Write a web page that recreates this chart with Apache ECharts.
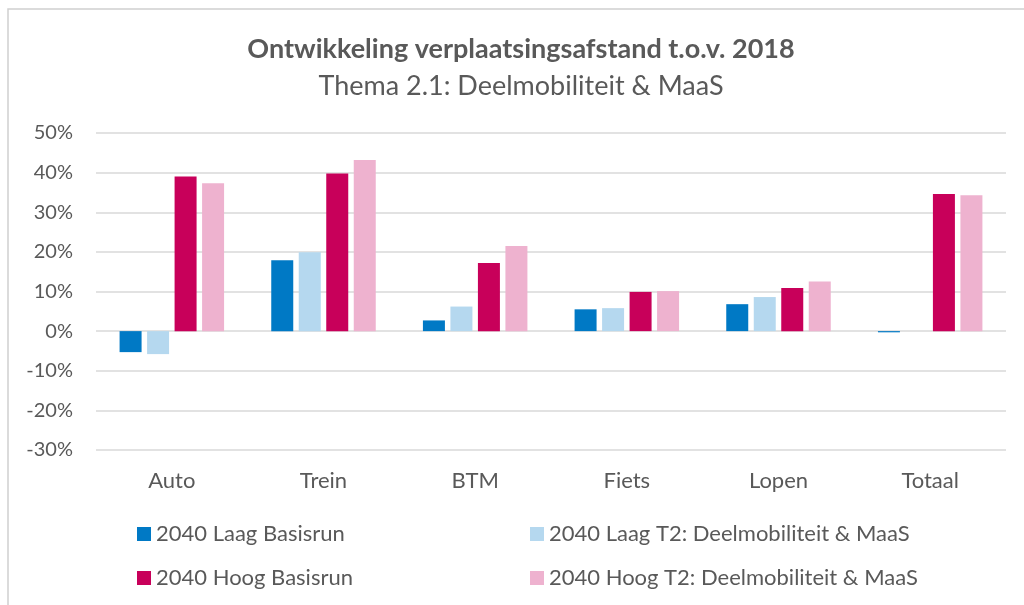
<!DOCTYPE html>
<html>
	<head>
		<meta charset="utf-8" />
		<title></title>
		<script src="https://cdn.jsdelivr.net/npm/echarts@6/dist/echarts.min.js" type="text/javascript" charset="utf-8"></script>
		<style type="text/css">
			html, body { margin: 0; padding: 0; background: #fff; }
			#chart { width: 1024px; height: 605px; }
		</style>
	</head>
	<body>
		<div id="chart"></div>
		<script type="text/javascript">
			var categories = ["Auto", "Trein", "BTM", "Fiets", "Lopen", "Totaal"];
			var seriesNames = [
				"2040 Laag Basisrun",
				"2040 Laag T2: Deelmobiliteit & MaaS",
				"2040 Hoog Basisrun",
				"2040 Hoog T2: Deelmobiliteit & MaaS"
			];
			var laagBasis = [-5.3, 17.9, 2.7, 5.5, 6.8, -0.3];
			var laagT2 = [-5.8, 19.9, 6.2, 5.8, 8.6, 0.0];
			var hoogBasis = [39.0, 39.8, 17.2, 9.9, 10.9, 34.6];
			var hoogT2 = [37.3, 43.2, 21.5, 10.1, 12.5, 34.3];
			var colors = ["#0079c5", "#b5d8ef", "#c8005a", "#eeb2cf"];

			var font = "Lato";
			var textColor = "#595959";

			var values = [laagBasis, laagT2, hoogBasis, hoogT2];
			var series = [];
			for ( var i = 0 ; i < values.length ; i ++ ){
				series.push({
					name: seriesNames[i],
					type: "bar",
					data: values[i],
					barWidth: 22,
					barGap: "25%",
					itemStyle: {color: colors[i]},
					emphasis: {disabled: true}
				})
			}

			// legend in two columns, two rows
			var legendPos = [[137, 523], [530, 523], [137, 567], [530, 567]];
			var legends = [];
			for ( var i = 0 ; i < seriesNames.length ; i ++ ){
				legends.push({
					data: [seriesNames[i]],
					left: legendPos[i][0],
					top: legendPos[i][1],
					padding: 0,
					icon: "rect",
					itemWidth: 14,
					itemHeight: 14,
					selectedMode: false,
					textStyle: {fontFamily: font, fontSize: 22, color: textColor}
				})
			}

			var chart = echarts.init(document.getElementById("chart"));
			chart.setOption({
				animation: false,
				color: colors,
				textStyle: {fontFamily: font},
				title: {
					text: "Ontwikkeling verplaatsingsafstand t.o.v. 2018",
					subtext: "Thema 2.1: Deelmobiliteit & MaaS",
					left: 516,
					top: 31,
					textAlign: "center",
					itemGap: 10,
					textStyle: {fontFamily: font, fontSize: 27, fontWeight: "bold", color: textColor},
					subtextStyle: {fontFamily: font, fontSize: 27, color: textColor}
				},
				graphic: [{
					type: "rect",
					shape: {x: 8, y: 9, width: 1100, height: 700},
					style: {fill: "none", stroke: "#d0d0d0", lineWidth: 1.5},
					silent: true
				}],
				legend: legends,
				grid: {left: 96, right: 18, top: 133, bottom: 155},
				xAxis: {
					type: "category",
					data: categories,
					axisLine: {show: false},
					axisTick: {show: false},
					axisLabel: {fontSize: 22, color: textColor, margin: 20, fontFamily: font}
				},
				yAxis: {
					type: "value",
					min: -30,
					max: 50,
					interval: 10,
					axisLine: {show: false},
					axisTick: {show: false},
					axisLabel: {fontSize: 20, color: textColor, margin: 23, fontFamily: font, formatter: "{value}%"},
					splitLine: {lineStyle: {color: "#d9d9d9", width: 1.5}}
				},
				series: series
			});
		</script>
	</body>
</html>
